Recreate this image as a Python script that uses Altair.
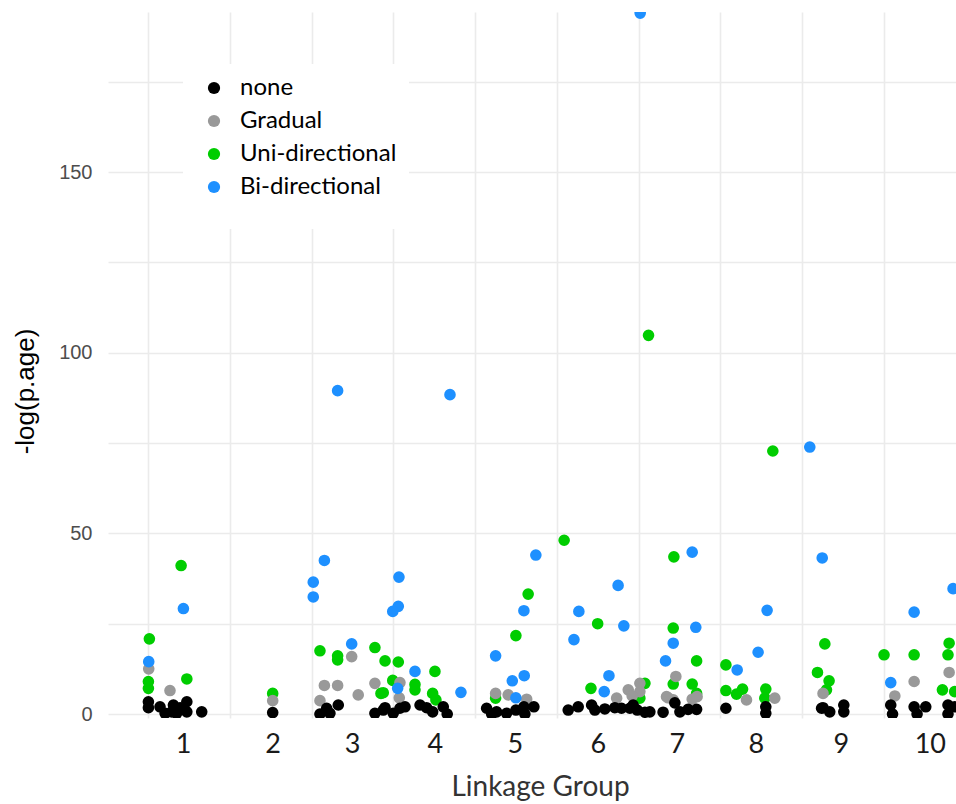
import altair as alt
import pandas as pd

# Linkage-group axis: label positions (cumulative map position) and their names
group_centers = [21.4, 76.2, 124.7, 175.4, 224.3, 275.0, 323.3, 371.6, 423.6, 478.0]
group_labels = ["1", "2", "3", "4", "5", "6", "7", "8", "9", "10"]
grid_positions = [0, 50, 100, 150, 200, 250, 300, 350, 400, 450]
y_ticks = [0, 25, 50, 75, 100, 125, 150, 175]

# Category order and colours
categories = ["none", "Gradual", "Uni-directional", "Bi-directional"]
colors = ["#000000", "#999999", "#00CD00", "#1E90FF"]

# Markers per category: map position and -log(p.age)
none_pos = [0.2, 0.2, 7.3, 10.4, 15.5, 17.5, 23.7, 23.7, 32.8, 14.5, 19.6,
            76.2,
            105.1, 109.2, 116.3, 111.2, 138.7, 144.9, 149.9, 154.0, 157.1, 143.8,
            166.3, 174.0, 180.5, 182.9, 170.3,
            207.0, 213.1, 219.2, 224.9, 229.8, 235.9, 230.4, 210.1,
            256.9, 263.0, 271.2, 273.2, 279.3, 285.4, 289.5, 296.6, 299.1, 303.8, 306.8, 314.9, 294.6,
            322.1, 330.2, 335.4, 325.2,
            353.3, 377.7, 377.7,
            411.8, 412.7, 416.8, 425.4, 425.4,
            454.1, 455.2, 468.4, 470.2, 475.5, 489.1, 489.1, 493.2]
none_val = [3.4, 1.75, 2.0, 0.2, 2.5, 0.2, 3.4, 0.6, 0.6, 0.6, 1.7,
            0.4,
            0.0, 1.6, 2.5, 0.2, 0.2, 1.75, 0.2, 1.6, 2.0, 1.1,
            2.5, 0.6, 2.0, 0.0, 1.75,
            1.6, 0.6, 0.2, 1.1, 2.0, 2.0, 0.0, 0.0,
            1.1, 2.0, 2.5, 1.1, 1.4, 1.75, 1.6, 2.5, 1.1, 0.5, 0.6, 0.5, 1.6,
            3.1, 1.3, 1.3, 0.6,
            1.6, 2.0, 0.2,
            1.6, 1.75, 0.6, 2.5, 0.6,
            2.5, 0.0, 2.0, 0.0, 2.0, 2.5, 0.0, 2.0]

gradual_pos = [0.4, 13.4,
               76.2,
               124.5, 107.8, 115.9, 105.1, 128.5, 138.7, 153.6, 154.0,
               212.5, 220.2, 231.5,
               286.5, 293.6, 300.7, 300.7, 296.0,
               322.7, 317.0, 321.1, 332.7, 335.7, 318.0,
               365.9, 383.2,
               412.7,
               468.4, 456.6, 489.8]
gradual_val = [12.5, 6.5,
               3.7,
               15.9, 7.9, 7.9, 3.7, 5.3, 8.5, 4.5, 8.7,
               5.7, 5.3, 4.1,
               4.4, 6.7, 8.5, 6.2, 5.0,
               10.4, 4.8, 3.9, 4.1, 4.8, 4.5,
               3.9, 4.4,
               5.7,
               9.0, 5.0, 11.5]

uni_pos = [20.2, 0.8, 0.2, 0.2, 23.7,
           76.2,
           105.1, 115.9, 115.9, 138.7, 144.9, 153.0, 149.6, 142.4, 143.8,
           175.4, 163.2, 163.2, 174.0, 176.0,
           232.4, 224.9, 212.5,
           254.4, 274.9, 270.8, 303.8, 300.7, 306.0,
           321.5, 321.1, 335.4, 321.1, 332.7, 335.4,
           353.3, 353.3, 359.8, 363.5, 377.7, 377.1, 382.0,
           413.8, 409.3, 416.4, 414.8,
           450.0, 468.4, 489.8, 489.1, 485.7, 493.2]
uni_val = [41.1, 20.8, 9.0, 7.1, 9.7,
           5.7,
           17.5, 16.1, 15.0, 18.4, 14.7, 14.4, 9.3, 5.7, 5.9,
           11.8, 8.2, 6.7, 5.7, 3.9,
           33.2, 21.7, 4.4,
           48.1, 25.0, 7.1, 8.5, 4.4, 104.8,
           43.5, 23.8, 14.7, 8.3, 8.3, 5.7,
           13.6, 6.5, 5.5, 6.9, 6.9, 4.4, 72.8,
           19.4, 11.5, 9.2, 6.7,
           16.4, 16.4, 19.6, 16.4, 6.7, 6.2]

bi_pos = [21.6, 0.4,
          107.8, 101.0, 101.0, 153.4, 153.0, 149.6, 124.5, 115.9, 152.6,
          163.2, 191.3, 184.6,
          237.1, 229.8, 212.5, 222.7, 230.0, 224.9,
          287.4, 263.4, 290.9, 260.4, 281.8, 278.9, 300.9,
          332.7, 334.9, 321.1, 316.4,
          360.2, 373.0, 378.5,
          412.2, 404.6,
          468.4, 454.1, 492.2]
bi_val = [29.2, 14.5,
          42.5, 36.5, 32.4, 37.9, 29.8, 28.4, 19.4, 89.5, 7.1,
          11.8, 6.0, 88.4,
          44.0, 28.6, 16.1, 9.2, 10.6, 4.5,
          35.6, 28.4, 24.4, 20.6, 10.6, 6.2, 194.0,
          44.8, 24.0, 19.6, 14.7,
          12.2, 17.1, 28.7,
          43.2, 73.9,
          28.2, 8.7, 34.7]

# Drawing order: green first, then grey, black, blue on top
frames = []
for name, pos, val in [
    ("Uni-directional", uni_pos, uni_val),
    ("Gradual", gradual_pos, gradual_val),
    ("none", none_pos, none_val),
    ("Bi-directional", bi_pos, bi_val),
]:
    frames.append(pd.DataFrame({"pos": pos, "logp": val, "type": name}))
df = pd.concat(frames, ignore_index=True)

# x-axis: labels at group centres, grid lines at regular positions
label_expr = "''"
for c, lab in reversed(list(zip(group_centers, group_labels))):
    label_expr = f"datum.value == {c} ? '{lab}' : ({label_expr})"
grid_test = "indexof([" + ",".join(str(g) for g in grid_positions) + "], datum.value) >= 0"

x_axis = alt.Axis(
    values=group_centers + grid_positions,
    labelExpr=label_expr,
    labelOverlap=False,
    labelFlush=False,
    ticks=False,
    domain=False,
    grid=True,
    gridOpacity={"condition": {"test": grid_test, "value": 1}, "value": 0},
    gridColor="#EBEBEB",
    gridWidth=1.6,
    labelFont="Lato",
    labelFontSize=27,
    labelColor="#1A1A1A",
    labelPadding=13,
    title="Linkage Group",
    titleFont="Lato",
    titleFontSize=28,
    titleFontWeight="normal",
    titleColor="#333333",
    titlePadding=16,
    titleX=432,
)

y_axis = alt.Axis(
    values=y_ticks,
    labelExpr="datum.value % 50 == 0 ? datum.label : ''",
    ticks=False,
    domain=False,
    grid=True,
    gridColor="#EBEBEB",
    gridWidth=1.6,
    labelFont="Liberation Sans",
    labelFontSize=20,
    labelColor="#4D4D4D",
    labelPadding=16,
    title="-log(p.age)",
    titleFont="Liberation Sans",
    titleFontSize=26,
    titleFontWeight="normal",
    titleColor="#000000",
    titlePadding=20,
    titleY=379,
)

chart = (
    alt.Chart(df)
    .mark_circle(size=135, opacity=1, clip=True)
    .encode(
        x=alt.X("pos:Q", scale=alt.Scale(domain=[-24.5, 494], nice=False, zero=False), axis=x_axis),
        y=alt.Y("logp:Q", scale=alt.Scale(domain=[-1.1, 194.3], nice=False, zero=False), axis=y_axis),
        color=alt.Color(
            "type:N",
            scale=alt.Scale(domain=categories, range=colors),
            legend=alt.Legend(
                title=" ",
                titleOrient="bottom",
                titleFontSize=14,
                titlePadding=4,
                orient="none",
                legendX=75,
                legendY=52,
                padding=12,
                fillColor="white",
                symbolType="circle",
                symbolSize=150,
                symbolOffset=7,
                labelFont="Lato",
                labelFontSize=24,
                labelColor="#000000",
                labelOffset=14,
                rowPadding=9,
            ),
        ),
    )
    .properties(
        width=848,
        height=706,
        background="white",
        autosize=alt.AutoSizeParams(type="none"),
        padding={"left": 108, "top": 12, "right": 0, "bottom": 86},
    )
    .configure_view(stroke=None, strokeWidth=0)
)

chart.save("out.html", embed_options={"renderer": "svg", "actions": False})
